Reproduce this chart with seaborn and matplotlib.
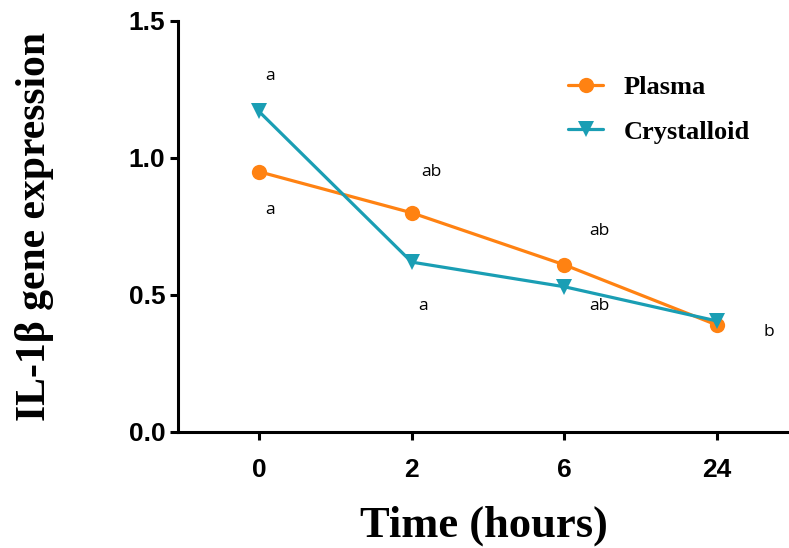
import matplotlib
matplotlib.use('Agg')

import numpy as np
import pandas as pd
import matplotlib.pyplot as plt
import seaborn as sns

# Data
times = ['0', '2', '6', '24']
plasma = [0.95, 0.80, 0.61, 0.39]
crystalloid = [1.17, 0.62, 0.53, 0.405]

# significance letters: (time index, y, text)
letter_pos = [0.04, 0.04, 1.06, 1.04, 2.16, 2.16, 3.30]
letter_y = [1.30, 0.81, 0.95, 0.46, 0.735, 0.46, 0.365]
letter_txt = ['a', 'a', 'ab', 'a', 'ab', 'ab', 'b']

pos = np.arange(len(times))
df = pd.DataFrame({
    'pos': np.concatenate([pos, pos]),
    'value': plasma + crystalloid,
    'group': ['Plasma'] * len(times) + ['Crystalloid'] * len(times),
})

sns.set_style('ticks')
plt.rcParams['text.color'] = 'black'
plt.rcParams['axes.labelcolor'] = 'black'
plt.rcParams['xtick.color'] = 'black'
plt.rcParams['ytick.color'] = 'black'

fig = plt.figure(figsize=(7.89, 5.48), dpi=100)
ax = fig.add_axes([0.2256, 0.2117, 0.7744, 0.75])

palette = {'Plasma': '#FF8212', 'Crystalloid': '#1A9EB4'}
sns.lineplot(data=df, x='pos', y='value', hue='group', style='group',
             markers={'Plasma': 'o', 'Crystalloid': 'v'}, dashes=False,
             palette=palette, linewidth=2.3, markersize=11,
             markeredgewidth=0, sort=False, ax=ax)

for x, y, t in zip(letter_pos, letter_y, letter_txt):
    ax.text(x, y, t, fontsize=12.5, family='Open Sans', color='black',
            ha='left', va='center')

ax.set_xlim(-0.53, 3.47)
ax.set_ylim(0, 1.5)
ax.set_xticks(pos)
ax.set_xticklabels(times)
ax.set_yticks([0, 0.5, 1.0, 1.5])
ax.set_yticklabels(['0.0', '0.5', '1.0', '1.5'])

for lab in ax.get_xticklabels() + ax.get_yticklabels():
    lab.set_fontfamily('Liberation Sans')
    lab.set_fontweight('bold')
    lab.set_fontsize(19)

ax.tick_params(axis='both', width=2.2, length=6, color='black')
ax.tick_params(axis='y', pad=3)
ax.tick_params(axis='x', pad=13)
for side in ['left', 'bottom']:
    ax.spines[side].set_linewidth(2.2)
    ax.spines[side].set_color('black')
ax.spines['top'].set_visible(False)
ax.spines['right'].set_visible(False)

ax.set_xlabel('Time (hours)', fontsize=32, fontweight='bold',
              family='Liberation Serif', labelpad=17)
ax.set_ylabel('IL-1β gene expression', fontsize=30, fontweight='bold',
              family='Liberation Serif', labelpad=54)

leg = ax.legend(loc='upper left', bbox_to_anchor=(0.6, 0.925), frameon=False,
                prop={'family': 'Liberation Serif', 'weight': 'bold', 'size': 19},
                handlelength=1.3, handletextpad=0.8, labelspacing=0.8)

plt.savefig('out.png', dpi=100)
